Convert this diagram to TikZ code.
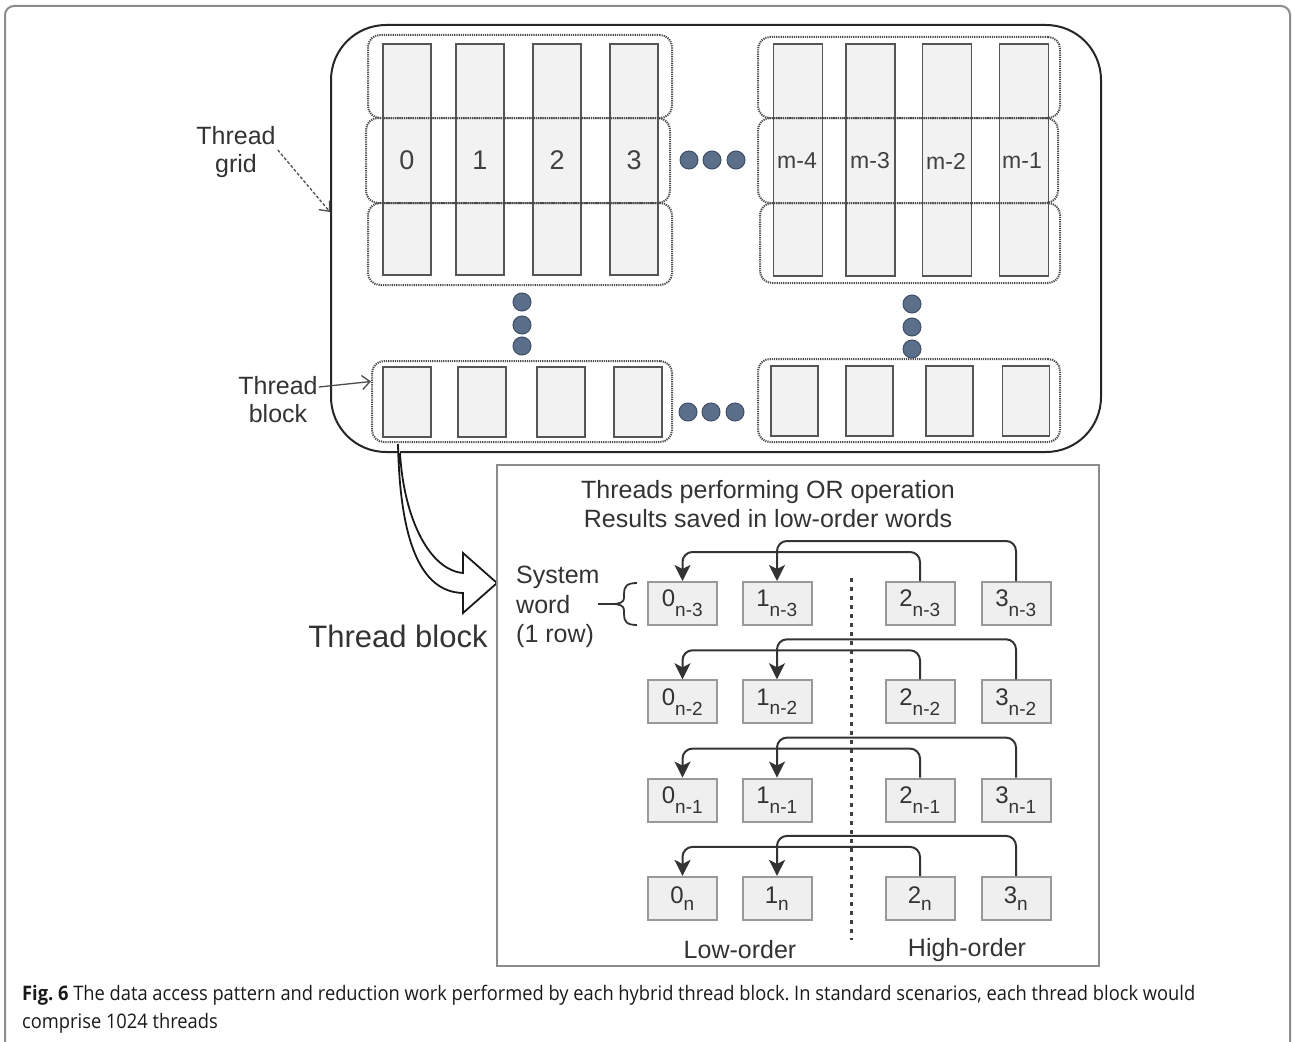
\documentclass[tikz,border=0pt]{standalone}
\usepackage{fontspec}
\usepackage{graphicx}
\setmainfont{Liberation Sans}
\newfontfamily\capfont{Open Sans}
\usetikzlibrary{arrows.meta}

\definecolor{ink}{HTML}{333333}
\definecolor{cellfill}{HTML}{F2F2F2}
\definecolor{celldraw}{HTML}{555555}
\definecolor{grpdraw}{HTML}{4A4A4A}
\definecolor{dotfill}{HTML}{5B6F8A}
\definecolor{dotdraw}{HTML}{3E4F66}
\definecolor{framegray}{HTML}{8C8C8C}
\definecolor{boxdraw}{HTML}{999999}
\definecolor{boxfill}{HTML}{EFEFEF}

\newcommand{\fs}[1]{\fontsize{#1}{#1}\selectfont}
\newcommand{\wlabel}[2]{{\fs{24}#1}\textsubscript{\fs{19}#2}}
\newcommand{\capone}{\textbf{Fig. 6} The data access pattern and reduction work performed by each hybrid thread block. In standard scenarios, each thread block would}
\newlength\capw
\frenchspacing

\begin{document}
% horizontal squeeze for the caption lines
\settowidth\capw{\capfont\fs{20}\capone}
\pgfmathsetmacro\capsx{1173/\capw}
\begin{tikzpicture}[x=1pt,y=-1pt,
  cell/.style={draw=celldraw, fill=cellfill, line width=1.5pt, inner sep=0pt},
  grp/.style={draw=grpdraw, dash pattern=on 1.2pt off 1pt, line width=2pt,
              rounded corners=12pt, inner sep=0pt},
  ell/.style={circle, draw=dotdraw, fill=dotfill, line width=1pt, inner sep=0pt,
              minimum size=18pt},
  gridframe/.style={draw=black!85, line width=2pt, rounded corners=55pt, inner sep=0pt},
  panelbox/.style={draw=framegray, line width=1.5pt, inner sep=0pt},
  wbox/.style={draw=boxdraw, fill=boxfill, line width=2pt, inner sep=0pt,
               minimum width=69pt, minimum height=43pt, text=ink},
  lbl/.style={text=ink, align=center, inner sep=0pt, font=\fontsize{25}{28}\selectfont},
  conn/.style={draw=ink, line width=2pt, rounded corners=10pt,
               -{Stealth[length=16pt,width=16pt,inset=4pt]}},
  callout/.style={draw=black!70, line width=1.3pt,
                  -{Straight Barb[length=8pt,width=14pt]}},
]
\useasboundingbox (0,0) rectangle (1292,1041);
\clip (0,0) rectangle (1292,1041);

% figure frame
\draw[draw=framegray, line width=2pt, rounded corners=9pt] (5,6) rectangle (1290,1060);

% ---------- thread grid ----------
\node[gridframe, minimum width=770pt, minimum height=427pt] (grid) at (716,238.5) {};

% threads of the first and last block columns
\foreach \x [count=\i from 0] in {407,480,557,634}
  \node[cell, minimum width=48pt, minimum height=231pt] (tl\i) at (\x,159.5) {};
\foreach \x [count=\i from 0] in {798,870.5,947,1024}
  \node[cell, minimum width=49pt, minimum height=232pt] (tr\i) at (\x,160) {};
\foreach \x [count=\i from 0] in {407,482,561,638}
  \node[cell, minimum width=48pt, minimum height=70pt] (bl\i) at (\x,402) {};
\foreach \x [count=\i from 0] in {794.5,869.5,949.5,1026}
  \node[cell, minimum width=47pt, minimum height=70pt] (br\i) at (\x,401) {};

% thread blocks (dotted outlines)
\node[grp, minimum width=304pt, minimum height=83pt] (gTL1) at (520,76.5) {};
\node[grp, minimum width=304pt, minimum height=85pt] (gTL2) at (518,160.5) {};
\node[grp, minimum width=304pt, minimum height=82pt] (gTL3) at (520,244) {};
\node[grp, minimum width=302pt, minimum height=81pt] (gTR1) at (909,77.5) {};
\node[grp, minimum width=300pt, minimum height=85pt] (gTR2) at (908,160.5) {};
\node[grp, minimum width=300pt, minimum height=80pt] (gTR3) at (910,243) {};
\node[grp, minimum width=300pt, minimum height=81pt] (gBL) at (522,401.5) {};
\node[grp, minimum width=302pt, minimum height=83pt] (gBR) at (909,400.5) {};

% thread indices
\foreach \x/\t in {407/0,480/1,557/2,634/3}
  \node[lbl, font=\fs{27}, text=black!75] at (\x,160) {\t};
\foreach \x/\t in {797/m-4,870/m-3,946/m-2,1022/m-1}
  \node[lbl, font=\fs{23}, text=black!75] at (\x,161) {\t};

% ellipsis dots
\foreach \x [count=\i] in {689,712,736} {
  \node[ell] (hdA\i) at (\x,160) {};
  \node[ell] (hdB\i) at (\x-1,412) {};
}
\foreach \y [count=\i] in {302,325,346}
  \node[ell] (vdA\i) at (522,\y) {};
\foreach \y [count=\i] in {304,327,349}
  \node[ell] (vdB\i) at (912,\y) {};

% callouts
\node[lbl] (tg) at (236,152) {Thread\\grid};
\node[lbl] (tb) at (278,400) {Thread\\block};
\draw[callout, dash pattern=on 3pt off 2pt] ([xshift=2pt,yshift=2pt]tg.east) -- ([yshift=26.5pt]grid.west);
\draw[callout] ([xshift=1pt,yshift=13pt]tb.east) -- ([yshift=20pt]gBL.west);

% ---------- zoom arrow ----------
\draw[line width=1.8pt, draw=black!90, fill=white, line join=miter]
  (398,444) .. controls (400,540) and (420,592) .. (463,593)
  -- (463,613) -- (497,583) -- (463,553) -- (463,573)
  .. controls (430,570) and (404,520) .. (400,453);
\node[lbl, font=\fs{31}] (bigtb) at (398,636) {Thread block};

% ---------- reduction panel ----------
\node[panelbox, minimum width=602pt, minimum height=501pt] (panel) at (798,715.5) {};
\node[lbl, font=\fontsize{25}{29}\selectfont] (title) at (768,504)
  {Threads performing OR operation\\Results saved in low-order words};
\node[lbl, anchor=west, align=left, font=\fontsize{25}{29.5}\selectfont] (sysw) at (516,607)
  {System\\word\\(1 row)};

% brace marking one row
\draw[draw=ink, line width=1.8pt] (598,604) -- (612,604);
\draw[draw=ink, line width=1.8pt]
  (637,583) .. controls (626,583) and (624,587) .. (624,594)
  -- (624,598) .. controls (624,602) and (620,604) .. (612,604)
  .. controls (620,604) and (624,606) .. (624,610)
  -- (624,614) .. controls (624,621) and (626,625) .. (637,625);

% divider between word halves
\draw[draw=black!75, line width=3pt, dash pattern=on 4pt off 5pt] (851,578) -- (851,940);

% words and OR reductions
\foreach \r/\s in {0/n-3,1/n-2,2/n-1,3/n} {
  \pgfmathsetmacro\yy{603.5+98.3*\r}
  \node[wbox] (w0r\r) at (682.5,\yy) {\wlabel{0}{\s}};
  \node[wbox] (w1r\r) at (777,\yy) {\wlabel{1}{\s}};
  \node[wbox] (w2r\r) at (920,\yy) {\wlabel{2}{\s}};
  \node[wbox] (w3r\r) at (1016,\yy) {\wlabel{3}{\s}};
  \draw[conn] (w3r\r.north) -- ++(0,-40) -| (w1r\r.north);
  \draw[conn] (w2r\r.north) -- ++(0,-29) -| (w0r\r.north);
}

\node[lbl] (low) at (740,950) {Low-order};
\node[lbl] (high) at (967,950) {High-order};

% ---------- caption ----------
\node[anchor=base west, inner sep=0pt, text=black!90] (cap1) at (22,1000)
  {\scalebox{\capsx}[1]{\capfont\fs{20}\capone}};
\node[anchor=base west, inner sep=0pt, text=black!90] (cap2) at (22,1028)
  {\scalebox{\capsx}[1]{\capfont\fs{20}comprise 1024 threads}};
\end{tikzpicture}
\end{document}
